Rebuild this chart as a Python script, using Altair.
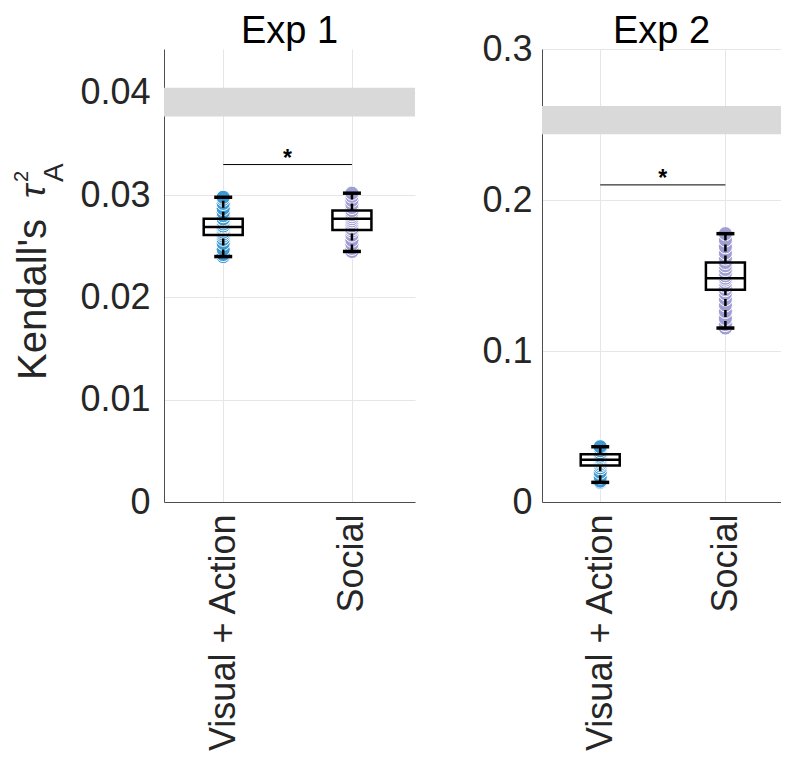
import altair as alt
import pandas as pd

FONT = "Liberation Sans"

groups = ["Visual + Action", "Social"]
positions = [1, 2]
colors = ["#3b99d4", "#a09fd4"]

titles = ["Exp 1", "Exp 2"]

# individual subject values
exp1_va = [0.0240, 0.0242, 0.0247, 0.0253, 0.0257, 0.0260, 0.0262, 0.0264, 0.0266, 0.0268, 0.0269,
           0.0270, 0.0272, 0.0274, 0.0276, 0.0277, 0.0280, 0.0283, 0.0287, 0.0292, 0.0296, 0.0298]
exp1_soc = [0.0245, 0.0248, 0.0252, 0.0256, 0.0261, 0.0265, 0.0267, 0.0270, 0.0273, 0.0275,
            0.0277, 0.0279, 0.0281, 0.0283, 0.0285, 0.0288, 0.0291, 0.0295, 0.0299, 0.0302]
exp2_va = [0.0130, 0.0138, 0.0165, 0.0198, 0.0226, 0.0241, 0.0252, 0.0263, 0.0272, 0.0280,
           0.0287, 0.0295, 0.0304, 0.0317, 0.0326, 0.0340, 0.0355, 0.0366]
exp2_soc = [0.1152, 0.1175, 0.1215, 0.1262, 0.1305, 0.1345, 0.1380, 0.1406, 0.1430, 0.1452, 0.1470,
            0.1482, 0.1498, 0.1515, 0.1540, 0.1565, 0.1586, 0.1615, 0.1650, 0.1690, 0.1735, 0.1777]

# box statistics per group: lower whisker, q1, median, q3, upper whisker
exp1_lo = [0.0240, 0.0245]
exp1_q1 = [0.0261, 0.0266]
exp1_med = [0.0269, 0.0277]
exp1_q3 = [0.0277, 0.0285]
exp1_hi = [0.0298, 0.0302]

exp2_lo = [0.0130, 0.1152]
exp2_q1 = [0.0241, 0.1406]
exp2_med = [0.0280, 0.1482]
exp2_q3 = [0.0317, 0.1586]
exp2_hi = [0.0366, 0.1777]

# grey reference band (noise ceiling) and significance bar heights
exp1_band = [0.0377, 0.0405]
exp2_band = [0.2436, 0.2623]
exp1_sig = 0.0330
exp2_sig = 0.2100
sig_text = "*"

exp1_yticks = [0, 0.01, 0.02, 0.03, 0.04]
exp2_yticks = [0, 0.1, 0.2, 0.3]

ylabel_parts = ["Kendall's", "τ", "2", "A"]

PLOT_H = 453


def panel(title, va, soc, lo, q1, med, q3, hi, band, sig, ydomain, yticks, width, xdomain,
          label_pad, with_ylabel):
    pts = pd.DataFrame({
        "pos": [positions[0]] * len(va) + [positions[1]] * len(soc),
        "val": va + soc,
        "grp": [groups[0]] * len(va) + [groups[1]] * len(soc),
    })
    st = pd.DataFrame({"pos": positions, "grp": groups, "lo": lo, "q1": q1,
                       "med": med, "q3": q3, "hi": hi})
    band_df = pd.DataFrame({"y": [band[0]], "y2": [band[1]],
                            "x": [xdomain[0]], "x2": [xdomain[1]]})
    sig_df = pd.DataFrame({"x": [positions[0]], "x2": [positions[1]],
                           "xm": [(positions[0] + positions[1]) / 2],
                           "y": [sig], "t": [sig_text]})
    title_df = pd.DataFrame({"t": [title]})

    label_expr = f"datum.value == {positions[0]} ? '{groups[0]}' : '{groups[1]}'"
    xscale = alt.Scale(domain=xdomain, nice=False, zero=False, padding=0)
    yscale = alt.Scale(domain=ydomain, nice=False, zero=False, padding=0)
    xaxis = alt.Axis(values=positions, labelExpr=label_expr, labelAngle=270,
                     labelAlign="right", labelBaseline="middle", labelPadding=12,
                     labelFontSize=36, labelFont=FONT, labelColor="#262626", labelLimit=500,
                     tickSize=0, grid=True, title=None)
    yaxis = alt.Axis(values=yticks, format="~g", labelPadding=label_pad, tickSize=0,
                     labelFontSize=36, labelFont=FONT, labelColor="#262626",
                     grid=True, title=None)

    band_layer = alt.Chart(band_df).mark_rect(color="#d9d9d9").encode(
        x=alt.X("x:Q", scale=xscale, axis=xaxis),
        x2="x2:Q",
        y=alt.Y("y:Q", scale=yscale, axis=yaxis),
        y2="y2:Q",
    )
    sig_rule = alt.Chart(sig_df).mark_rule(color="black", strokeWidth=1).encode(
        x=alt.X("x:Q", scale=xscale), x2="x2:Q", y=alt.Y("y:Q", scale=yscale))
    sig_star = alt.Chart(sig_df).mark_text(fontSize=23, font=FONT, fontWeight="bold",
                                           baseline="alphabetic", color="black", dy=1).encode(
        x=alt.X("xm:Q", scale=xscale), y=alt.Y("y:Q", scale=yscale), text="t:N")

    points = alt.Chart(pts).mark_circle(size=200, opacity=1, stroke="white",
                                        strokeWidth=1).encode(
        x=alt.X("pos:Q", scale=xscale),
        y=alt.Y("val:Q", scale=yscale),
        color=alt.Color("grp:N", scale=alt.Scale(domain=groups, range=colors), legend=None),
    )
    box = alt.Chart(st).mark_bar(width=39, fillOpacity=0, stroke="black",
                                 strokeWidth=2.5).encode(
        x=alt.X("pos:Q", scale=xscale), y=alt.Y("q1:Q", scale=yscale), y2="q3:Q")
    wh_hi = alt.Chart(st).mark_rule(color="black", strokeWidth=2.5, strokeDash=[7, 4]).encode(
        x=alt.X("pos:Q", scale=xscale), y=alt.Y("q3:Q", scale=yscale), y2="hi:Q")
    wh_lo = alt.Chart(st).mark_rule(color="black", strokeWidth=2.5, strokeDash=[7, 4]).encode(
        x=alt.X("pos:Q", scale=xscale), y=alt.Y("lo:Q", scale=yscale), y2="q1:Q")
    cap_hi = alt.Chart(st).mark_tick(orient="horizontal", size=18, thickness=3.5,
                                     color="black", opacity=1).encode(
        x=alt.X("pos:Q", scale=xscale), y=alt.Y("hi:Q", scale=yscale))
    cap_lo = alt.Chart(st).mark_tick(orient="horizontal", size=18, thickness=3.5,
                                     color="black", opacity=1).encode(
        x=alt.X("pos:Q", scale=xscale), y=alt.Y("lo:Q", scale=yscale))
    median = alt.Chart(st).mark_tick(orient="horizontal", size=39, thickness=2.5,
                                     color="black", opacity=1).encode(
        x=alt.X("pos:Q", scale=xscale), y=alt.Y("med:Q", scale=yscale))

    title_mark = alt.Chart(title_df).mark_text(
        fontSize=38, font=FONT, color="black", align="center", baseline="top"
    ).encode(text="t:N", x=alt.value(width / 2), y=alt.value(-36))

    layers = [band_layer, sig_rule, sig_star, points, box, wh_hi, wh_lo, cap_hi, cap_lo,
              median, title_mark]

    if with_ylabel:
        lab = pd.DataFrame({"t": ylabel_parts, "i": list(range(len(ylabel_parts)))})
        specs = [
            (0, 40, "normal", -150, 331),
            (1, 36, "italic", -147, 149),
            (2, 20, "normal", -152, 133),
            (3, 28, "normal", -123, 133),
        ]
        for idx, fs, style, px, py in specs:
            layers.append(
                alt.Chart(lab).transform_filter(f"datum.i == {idx}")
                .mark_text(angle=270, align="left", baseline="top", fontSize=fs,
                           fontStyle=style, font=FONT, color="#262626")
                .encode(text="t:N", x=alt.value(px), y=alt.value(py))
            )

    return alt.layer(*layers).properties(width=width, height=PLOT_H)


left = panel(titles[0], exp1_va, exp1_soc, exp1_lo, exp1_q1, exp1_med, exp1_q3, exp1_hi,
             exp1_band, exp1_sig, [0, 0.0443], exp1_yticks, 251, [0.54, 2.49], 14, True)
right = panel(titles[1], exp2_va, exp2_soc, exp2_lo, exp2_q1, exp2_med, exp2_q3, exp2_hi,
              exp2_band, exp2_sig, [0, 0.3], exp2_yticks, 239, [0.535, 2.444], 10, False)

chart = alt.hconcat(left, right, spacing=66).properties(
    padding={"left": 4, "top": 5, "right": 0, "bottom": 0},
    background="white",
).configure_view(stroke=None).configure_axis(
    domainColor="#4d4d4d", domainWidth=1, gridColor="#e6e6e6", gridWidth=1,
)

chart.save("out.html", embed_options={"renderer": "svg", "actions": False})
